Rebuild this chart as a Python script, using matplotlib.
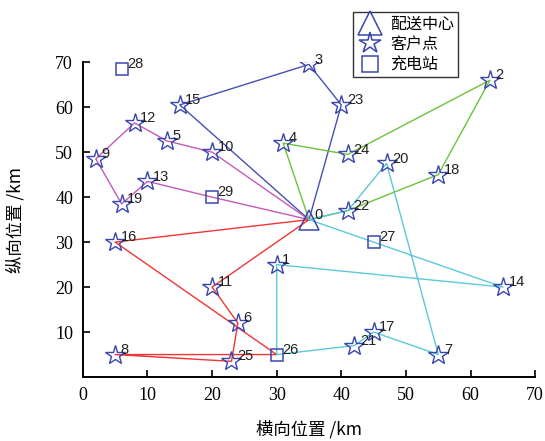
import matplotlib
matplotlib.use("Agg")
import matplotlib.pyplot as plt
from matplotlib.lines import Line2D

# Node coordinates (km): index 0 is the depot, 1-25 customers, 26-29 charging stations
node_x = [35, 30, 63, 35, 31, 13, 24, 55, 5, 2, 20, 20, 8, 10, 65, 15, 5, 45, 55, 6,
          47, 42, 41, 40, 41, 23, 30, 45, 6, 20]
node_y = [35, 25, 66, 69.5, 52, 52.5, 12, 5, 5, 48.5, 50, 20, 56.5, 43.5, 20, 60.5, 30, 10, 45, 38.5,
          47.5, 7, 37, 60.5, 49.5, 3.5, 5, 30, 68.5, 40]
customers = list(range(1, 26))
stations = [26, 27, 28, 29]

# Vehicle routes as node sequences
routes = [
    [0, 15, 3, 23, 0],
    [0, 10, 5, 12, 9, 19, 13, 29, 0],
    [0, 4, 24, 2, 18, 22, 0],
    [0, 11, 6, 25, 8, 26, 16, 0],
    [0, 27, 14, 1, 26, 21, 17, 7, 20, 22, 0],
]
route_colors = ["#4650b4", "#c45ab8", "#6cc23c", "#f23434", "#5cc8d8"]

legend_labels = ["配送中心", "客户点", "充电站"]
xlabel = "横向位置 /km"
ylabel = "纵向位置 /km"
xticks = [0, 10, 20, 30, 40, 50, 60, 70]
yticks = [10, 20, 30, 40, 50, 60, 70]

mark_color = "#3a46b0"
cjk = ["Noto Sans CJK SC", "DejaVu Sans"]
plt.rcParams["font.family"] = ["Liberation Serif", "DejaVu Serif"]

fig = plt.figure(figsize=(5.45, 4.41), dpi=100)
ax = fig.add_axes([0.152, 0.145, 0.830, 0.714])

for r, c in zip(routes, route_colors):
    ax.plot([node_x[i] for i in r], [node_y[i] for i in r], color=c, lw=1.0, zorder=2)

ax.plot([node_x[i] for i in customers], [node_y[i] for i in customers], ls="none",
        marker="*", ms=15, mfc="none", mec=mark_color, mew=1.0, zorder=3)
ax.plot([node_x[i] for i in stations], [node_y[i] for i in stations], ls="none",
        marker="s", ms=9, mfc="none", mec=mark_color, mew=1.1, zorder=3)
ax.plot([node_x[0]], [node_y[0]], ls="none", marker="^", ms=15, mfc="none",
        mec=mark_color, mew=1.1, zorder=3)

for i in range(len(node_x)):
    ax.annotate(str(i), (node_x[i], node_y[i]), xytext=(4, 3.5), textcoords="offset points",
                ha="left", va="center", fontsize=10.5, color="#222222",
                family=["Liberation Sans", "DejaVu Sans"], zorder=4)

ax.set_xlim(0, 70)
ax.set_ylim(0, 70)
ax.set_xticks(xticks)
ax.set_yticks(yticks)
for s in ["top", "right"]:
    ax.spines[s].set_visible(False)
for s in ["left", "bottom"]:
    ax.spines[s].set_linewidth(1.4)
ax.tick_params(direction="in", length=5, width=1.2, labelsize=13, pad=7)

ax.set_xlabel(xlabel, fontsize=12.5, family=cjk, labelpad=12)
ax.set_ylabel(ylabel, fontsize=12.5, family=cjk, labelpad=22)

handles = [
    Line2D([], [], ls="none", marker="^", ms=17, mfc="none", mec=mark_color, mew=1.1),
    Line2D([], [], ls="none", marker="*", ms=16, mfc="none", mec=mark_color, mew=1.1),
    Line2D([], [], ls="none", marker="s", ms=11, mfc="none", mec=mark_color, mew=1.1),
]
leg = ax.legend(handles, legend_labels, loc="upper left", bbox_to_anchor=(0.597, 1.16),
                prop={"family": cjk, "size": 11.5}, frameon=True, fancybox=False,
                edgecolor="black", borderpad=0.25, labelspacing=0.2, handlelength=1.6,
                handletextpad=0.5, borderaxespad=0)
leg.get_frame().set_linewidth(1.0)
leg.set_zorder(5)

fig.savefig("out.png", dpi=100)
